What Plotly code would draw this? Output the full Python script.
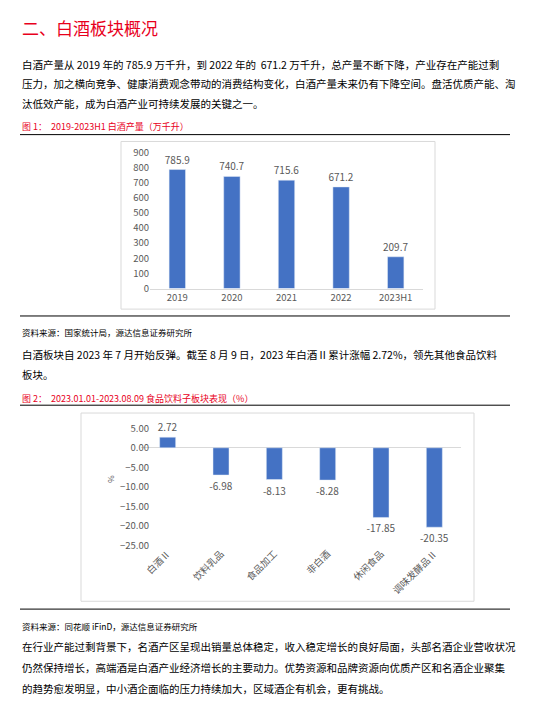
import plotly.graph_objects as go

# ---- data ----
years = ['2019', '2020', '2021', '2022', '2023H1']
output_vals = [785.9, 740.7, 715.6, 671.2, 209.7]

sectors = ['白酒Ⅱ', '饮料乳品', '食品加工', '非白酒', '休闲食品', '调味发酵品Ⅱ']
sector_vals = [2.72, -6.98, -8.13, -8.28, -17.85, -20.35]

W, H = 550, 712
FONT = 'Noto Sans CJK SC'
BLUE = '#4472C4'
RED = '#E8001C'
GREY = '#595959'


def py(p):
    return 1 - p / H


def px(p):
    return p / W


fig = go.Figure()

fig.add_trace(go.Bar(
    x=years, y=output_vals, marker_color=BLUE, xaxis='x', yaxis='y',
    text=[f'{v:.1f}' for v in output_vals], textposition='outside',
    constraintext='none',
    textfont=dict(size=10, color=GREY), cliponaxis=False))

fig.add_trace(go.Bar(
    x=sectors, y=sector_vals, marker_color=BLUE, xaxis='x2', yaxis='y2',
    text=[f'{v:.2f}' for v in sector_vals], textposition='outside',
    constraintext='none',
    textfont=dict(size=10, color=GREY), cliponaxis=False))

tickf = dict(size=9.5, color=GREY, family=FONT)
fig.update_layout(
    width=W, height=H, margin=dict(l=0, r=0, t=0, b=0),
    plot_bgcolor='white', paper_bgcolor='white', showlegend=False,
    bargap=0.7, font=dict(family=FONT),
    xaxis=dict(domain=[px(142), px(415)], anchor='y', tickfont=tickf,
               showline=True, linecolor='#D9D9D9', ticks=''),
    yaxis=dict(domain=[py(278), py(139)], range=[0, 900], dtick=100,
               tickfont=tickf, showgrid=False, zeroline=False),
    xaxis2=dict(domain=[px(133), px(453)], anchor='y2', tickfont=tickf,
                tickangle=-45, ticks=''),
    yaxis2=dict(domain=[py(540), py(404.6)], range=[-25, 9],
                tickvals=[5, 0, -5, -10, -15, -20, -25], tickformat='.2f',
                tickfont=tickf, showgrid=False, zeroline=True,
                zerolinecolor='#D9D9D9', zerolinewidth=1,
                title=dict(text='%', font=dict(size=8, color=GREY), standoff=4)),
)

# chart frames and rules
shapes = [
    dict(type='rect', xref='paper', yref='paper', x0=px(113), x1=px(427),
         y0=py(299), y1=py(128), line=dict(color='#D9D9D9', width=1)),
    dict(type='rect', xref='paper', yref='paper', x0=px(73), x1=px(466),
         y0=py(597), y1=py(405), line=dict(color='#D9D9D9', width=1)),
]
for ry in [121, 306, 397, 605]:
    shapes.append(dict(type='line', xref='paper', yref='paper', x0=px(12),
                       x1=px(502), y0=py(ry), y1=py(ry),
                       line=dict(color='black', width=1)))
fig.update_layout(shapes=shapes)

texts = [
    (12, '二、白酒板块概况', 17, RED),
    (49, '白酒产量从 2019 年的 785.9 万千升，到 2022 年的  671.2 万千升，总产量不断下降，产业存在产能过剩', 10.5, 'black'),
    (69, '压力，加之横向竞争、健康消费观念带动的消费结构变化，白酒产量未来仍有下降空间。盘活优质产能、淘', 10.5, 'black'),
    (89, '汰低效产能，成为白酒产业可持续发展的关键之一。', 10.5, 'black'),
    (113, '图 1：  2019-2023H1 白酒产量（万千升）', 9, RED),
    (322, '资料来源：国家统计局，源达信息证券研究所', 8.5, 'black'),
    (345, '白酒板块自 2023 年 7 月开始反弹。截至 8 月 9 日，2023 年白酒 II 累计涨幅 2.72%，领先其他食品饮料', 10.5, 'black'),
    (366, '板块。', 10.5, 'black'),
    (390, '图 2：  2023.01.01-2023.08.09 食品饮料子板块表现（%）', 9, RED),
    (622, '资料来源：同花顺 iFinD，源达信息证券研究所', 8.5, 'black'),
    (643, '在行业产能过剩背景下，名酒产区呈现出销量总体稳定，收入稳定增长的良好局面，头部名酒企业营收状况', 10.5, 'black'),
    (665, '仍然保持增长，高端酒是白酒产业经济增长的主要动力。优势资源和品牌资源向优质产区和名酒企业聚集', 10.5, 'black'),
    (686, '的趋势愈发明显，中小酒企面临的压力持续加大，区域酒企有机会，更有挑战。', 10.5, 'black'),
]
for ty, t, sz, col in texts:
    fig.add_annotation(x=px(12), y=py(ty), xref='paper', yref='paper',
                       text=t, showarrow=False, xanchor='left', yanchor='middle',
                       font=dict(size=sz, color=col, family=FONT))

fig.write_html('out.html')
